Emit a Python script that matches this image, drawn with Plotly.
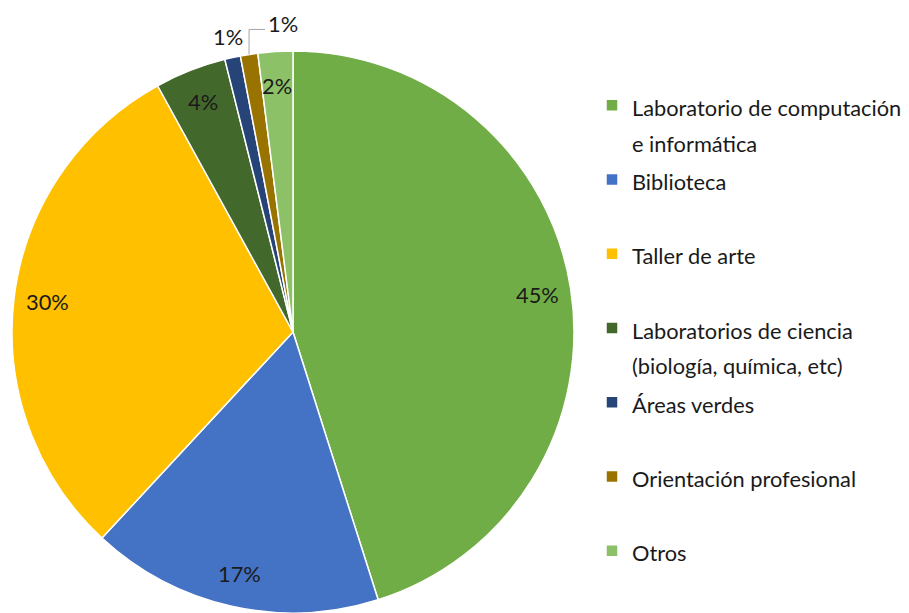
import math
import plotly.graph_objects as go

# Datos del gráfico
categorias = [
    "Laboratorio de computación\ne informática",
    "Biblioteca",
    "Taller de arte",
    "Laboratorios de ciencia\n(biología, química, etc)",
    "Áreas verdes",
    "Orientación profesional",
    "Otros",
]
valores = [45.1, 16.8, 30.1, 4.1, 0.9, 1.0, 2.0]
colores = ["#70AD47", "#4472C4", "#FFC000", "#43682B", "#264478", "#997300", "#8CC168"]

# la pagina tiene 8px de margen en el body
OFF = 8
W, H = 909 - OFF, 613 - OFF
FUENTE = "Lato"
TAM = 21.8
COLOR_TXT = "#1A1A1A"

# caja del pastel en pixeles de pantalla
PIE_L, PIE_R, PIE_B = 12, 574, 613
R = (PIE_R - PIE_L) / 2
CX = (PIE_L + PIE_R) / 2
CY = PIE_B - R


def px_a_papel(x, y):
    return (x - OFF) / W, 1 - (y - OFF) / H


# Etiquetas de leyenda: todas de dos lineas para que el espaciado sea uniforme
def etiqueta_leyenda(txt):
    lineas = txt.split("\n")
    if len(lineas) == 1:
        lineas.append("&nbsp;")
    return "<br>".join(f"<span style='font-size:{TAM}px'>{l}</span>" for l in lineas)


dx0, dy1 = px_a_papel(PIE_L, PIE_B - 2 * R)
dx1, dy0 = px_a_papel(PIE_R, PIE_B)

fig = go.Figure(go.Pie(
    labels=[etiqueta_leyenda(c) for c in categorias],
    values=valores,
    marker=dict(colors=colores, line=dict(color="white", width=1.5)),
    sort=False,
    direction="clockwise",
    rotation=0,
    textinfo="none",
    hoverinfo="skip",
    domain=dict(x=[dx0, dx1], y=[max(dy0, 0), min(dy1, 1)]),
))

# Etiquetas de porcentaje al estilo Excel (cerca del borde)
anotaciones = []
formas = []
total = sum(valores)
acum = 0
for i, v in enumerate(valores):
    ang = (acum + v / 2) / total * 2 * math.pi
    acum += v
    texto = f"{round(v / total * 100)}%"
    sx, sy = math.sin(ang), -math.cos(ang)
    if categorias[i] == "Orientación profesional":
        ex, ey = CX + R * sx, CY + R * sy
        x1, y1 = ex, ey - 25
        x2, y2 = ex + 16, y1
        p = [px_a_papel(*q) for q in [(ex, ey), (x1, y1), (x2, y2)]]
        formas.append(dict(
            type="path", xref="paper", yref="paper",
            path=f"M {p[0][0]},{p[0][1]} L {p[1][0]},{p[1][1]} L {p[2][0]},{p[2][1]}",
            line=dict(color="#A6A6A6", width=1),
        ))
        ax, ay = px_a_papel(x2 + 1, y1 - 6)
        anotaciones.append(dict(x=ax, y=ay, xref="paper", yref="paper", text=texto,
                                showarrow=False, xanchor="left", yanchor="middle",
                                font=dict(family=FUENTE, size=TAM, color=COLOR_TXT)))
        continue
    frac = 1.075 if categorias[i] == "Áreas verdes" else 0.88
    ax, ay = px_a_papel(CX + frac * R * sx, CY + frac * R * sy)
    anotaciones.append(dict(x=ax, y=ay, xref="paper", yref="paper", text=texto,
                            showarrow=False, xanchor="center", yanchor="middle",
                            font=dict(family=FUENTE, size=TAM, color=COLOR_TXT)))

lx, ly = px_a_papel(592, 81)
fig.update_layout(
    width=W, height=H,
    margin=dict(l=0, r=0, t=0, b=0, autoexpand=False),
    paper_bgcolor="white",
    font=dict(family=FUENTE, color=COLOR_TXT),
    annotations=anotaciones,
    shapes=formas,
    showlegend=True,
    legend=dict(
        x=lx, xanchor="left",
        y=ly, yanchor="top",
        valign="top",
        font=dict(family=FUENTE, size=27.4, color=COLOR_TXT),
        bgcolor="rgba(0,0,0,0)",
        traceorder="normal",
    ),
)

fig.write_html("out.html")
